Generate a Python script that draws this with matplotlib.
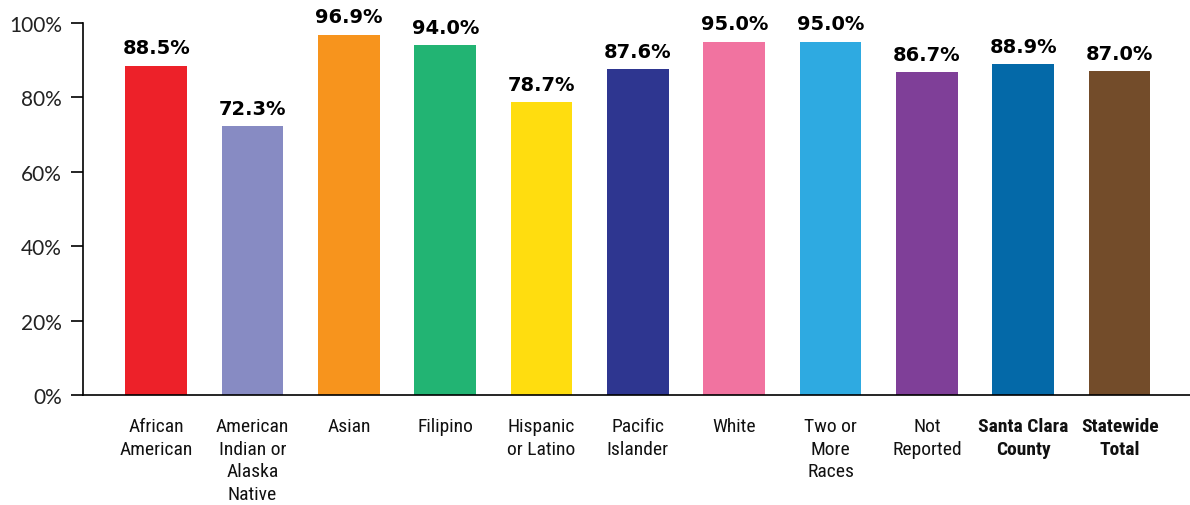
import numpy as np
import matplotlib.pyplot as plt

categories = ["African\nAmerican", "American\nIndian or\nAlaska\nNative", "Asian", "Filipino",
              "Hispanic\nor Latino", "Pacific\nIslander", "White", "Two or\nMore\nRaces",
              "Not\nReported", "Santa Clara\nCounty", "Statewide\nTotal"]
values = [88.5, 72.3, 96.9, 94.0, 78.7, 87.6, 95.0, 95.0, 86.7, 88.9, 87.0]
colors = ["#ED2129", "#878BC3", "#F7941D", "#22B473", "#FFDD0F", "#2E3690",
          "#F173A0", "#2EAAE1", "#7F3F98", "#0469A8", "#734C2A"]
bold_cats = ["Santa Clara\nCounty", "Statewide\nTotal"]

fig = plt.figure(figsize=(11.9, 5.06), dpi=100)
ax = fig.add_axes([0.0697, 0.2174, 0.9303, 0.7352])

x = np.arange(len(values))
ax.bar(x, values, width=0.64, color=colors)

# value labels above the bars
for xi, v in zip(x, values):
    ax.annotate(f"{v:.1f}%", (xi, v), xytext=(0, 6), textcoords="offset points",
                ha="center", va="bottom", fontsize=14, fontweight="bold",
                family="DejaVu Sans")

ax.set_xlim(-0.76, 10.73)
ax.set_ylim(0, 100)
ax.set_yticks([0, 20, 40, 60, 80, 100])
ax.set_yticklabels([f"{t}%" for t in range(0, 101, 20)], fontsize=15, family="Lato", color="#222222")
ax.tick_params(axis="y", length=9, width=1.2, pad=6)

ax.set_xticks(x)
ax.set_xticklabels(categories, fontsize=14, family="Roboto Condensed",
                   linespacing=1.33, va="top", color="#111111")
ax.tick_params(axis="x", length=0, pad=16)
for lab in ax.get_xticklabels():
    if lab.get_text() in bold_cats:
        lab.set_fontweight("bold")

for s in ["top", "right"]:
    ax.spines[s].set_visible(False)
ax.spines["left"].set_linewidth(1.2)
ax.spines["bottom"].set_linewidth(1.2)

fig.savefig("out.png", dpi=100)
